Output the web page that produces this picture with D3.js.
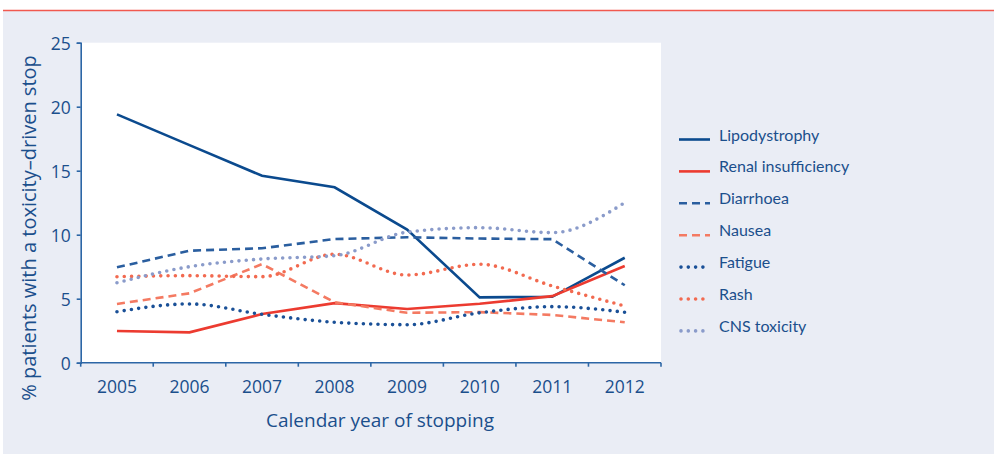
<!DOCTYPE html>
<html>
<head>
<meta charset="utf-8">
<script src="https://cdn.jsdelivr.net/npm/d3@7"></script>
<style>
  body{margin:0;background:#fff;}
  svg{display:block;}
  .general-font{font-family:"Open Sans",Lato,sans-serif;fill:#1b4f8c;}
  .legend-font{font-family:Lato,"Open Sans",sans-serif;fill:#1b4f8c;}
</style>
</head>
<body>
<svg id="viz-svg" width="994" height="454"></svg>
<script>
var years = [2005, 2006, 2007, 2008, 2009, 2010, 2011, 2012]
  , seriesNames = ["Lipodystrophy", "Renal insufficiency", "Diarrhoea", "Nausea", "Fatigue", "Rash", "CNS toxicity"]
  , lipodystrophy = [19.4, 17.0, 14.6, 13.7, 10.4, 5.1, 5.15, 8.2]
  , renal = [2.48, 2.37, 3.8, 4.65, 4.2, 4.6, 5.2, 7.55]
  , diarrhoea = [7.45, 8.75, 8.94, 9.66, 9.8, 9.7, 9.65, 6.05]
  , nausea = [4.59, 5.42, 7.7, 4.72, 3.9, 3.95, 3.73, 3.16]
  , fatigue = [3.98, 4.59, 3.78, 3.16, 2.97, 3.9, 4.38, 3.94]
  , rash = [6.72, 6.8, 6.72, 8.47, 6.85, 7.69, 6.0, 4.43]
  , cns = [6.25, 7.5, 8.1, 8.36, 10.2, 10.55, 10.16, 12.5]
  , yTicks = [0, 5, 10, 15, 20, 25]
  , xTitle = "Calendar year of stopping"
  , yTitle = "% patients with a toxicity\u2013driven stop"

var seriesValues = [lipodystrophy, renal, diarrhoea, nausea, fatigue, rash, cns]

// look of each series, by position in seriesNames
var seriesStyle = [
    {color:"#0b4a8e", dash:null, width:2.6, curve:d3.curveLinear}
  , {color:"#ec3b30", dash:null, width:2.6, curve:d3.curveLinear}
  , {color:"#2a5e9f", dash:"8,5", width:2.6, curve:d3.curveLinear}
  , {color:"#f47a62", dash:"8,5", width:2.6, curve:d3.curveLinear}
  , {color:"#1a5097", dash:"0,7.3", width:3.6, curve:d3.curveMonotoneX}
  , {color:"#f26a50", dash:"0,7.3", width:3.6, curve:d3.curveMonotoneX}
  , {color:"#8a9bca", dash:"0,7.3", width:3.6, curve:d3.curveMonotoneX}
]

var svg = d3.select("#viz-svg")
  , plotLeft = 80.7
  , plotRight = 661
  , plotTop = 42.7
  , plotBottom = 362.7
  , axisColor = "#2c66a6"

// page frame
svg.append("rect").attr("x",3).attr("y",11).attr("width",991).attr("height",443).style("fill","#eaedf5")
svg.append("line").attr("x1",3).attr("x2",994).attr("y1",10.5).attr("y2",10.5)
  .style("stroke","#f1594f").style("stroke-width",1.6)

svg.append("rect")
  .attr("x",plotLeft).attr("y",plotTop)
  .attr("width",plotRight-plotLeft).attr("height",plotBottom-plotTop)
  .style("fill","#fff")

var xScale = d3.scaleBand().domain(years).range([plotLeft, plotRight])
  , yScale = d3.scaleLinear().domain([0,25]).range([plotBottom, plotTop])

function drawAxes(){
  var xAxis = d3.axisBottom(xScale).tickSize(0).tickPadding(20)
    , yAxis = d3.axisLeft(yScale).tickValues(yTicks).tickSize(4).tickPadding(6)

  var gx = svg.append("g")
    .attr("transform","translate(0,"+plotBottom+")")
    .call(xAxis)
  gx.select(".domain").attr("d","M"+plotLeft+",0H"+plotRight)
  // ticks sit on the band edges
  gx.selectAll(".edge-tick")
    .data(years.concat(["end"]))
    .enter().append("line")
      .attr("class","edge-tick")
      .attr("x1",function(d,i){ return plotLeft+i*xScale.step() })
      .attr("x2",function(d,i){ return plotLeft+i*xScale.step() })
      .attr("y1",0).attr("y2",4)

  var gy = svg.append("g")
    .attr("transform","translate("+plotLeft+",0)")
    .call(yAxis)

  svg.selectAll(".domain, .tick line, .edge-tick")
    .style("stroke",axisColor).style("stroke-width",1.6)
  svg.selectAll(".tick text")
    .attr("class","general-font")
    .style("font-size","17.5px")
    .style("font-family",null)
  gx.selectAll(".tick text").attr("dy","0.6em")
  gy.selectAll(".tick text").attr("dy","0.36em")

  svg.append("text")
    .attr("class","general-font")
    .attr("x",380)
    .attr("y",427)
    .style("font-size","19px")
    .text(xTitle)
    .style("text-anchor","middle")

  svg.append("text")
    .attr("class","general-font")
    .attr("transform","translate(36,228) rotate(-90)")
    .style("font-size","20px")
    .style("text-anchor","middle")
    .text(yTitle)
}

function drawLines(){
  var g = svg.append("g").attr("id","lines")
  seriesValues.forEach(function(vals,i){
    var st = seriesStyle[i]
    var line = d3.line()
      .x(function(d,j){ return xScale(years[j]) + xScale.bandwidth()/2 })
      .y(function(d){ return yScale(d) })
      .curve(st.curve)
    g.append("path")
      .datum(vals)
      .attr("d",line)
      .style("fill","none")
      .style("stroke",st.color)
      .style("stroke-width",st.width)
      .style("stroke-dasharray",st.dash)
      .style("stroke-linecap",st.dash && st.dash.indexOf("0,")==0 ? "round" : "butt")
  })
}

function drawLegend(){
  var lg = svg.append("g").attr("id","legend").attr("transform","translate(679,139.5)")
    , rows = lg.selectAll(".legend-row")
      .data(seriesNames)
      .enter().append("g")
        .attr("class","legend-row")
        .attr("transform",function(d,i){ return "translate(0,"+(i*31.9)+")" })

  rows.append("line")
    .attr("x1",function(d,i){ return seriesStyle[i].dash && seriesStyle[i].dash.indexOf("0,")==0 ? 2 : 0 })
    .attr("x2",31)
    .attr("y1",0).attr("y2",0)
    .style("stroke",function(d,i){ return seriesStyle[i].color })
    .style("stroke-width",function(d,i){ return seriesStyle[i].width })
    .style("stroke-dasharray",function(d,i){ return seriesStyle[i].dash })
    .style("stroke-linecap",function(d,i){ return seriesStyle[i].dash && seriesStyle[i].dash.indexOf("0,")==0 ? "round" : "butt" })

  rows.append("text")
    .attr("class","legend-font")
    .attr("x",40)
    .attr("y",1)
    .style("font-size","16px")
    .text(function(d){ return d })
}

drawAxes()
drawLines()
drawLegend()
</script>
</body>
</html>
